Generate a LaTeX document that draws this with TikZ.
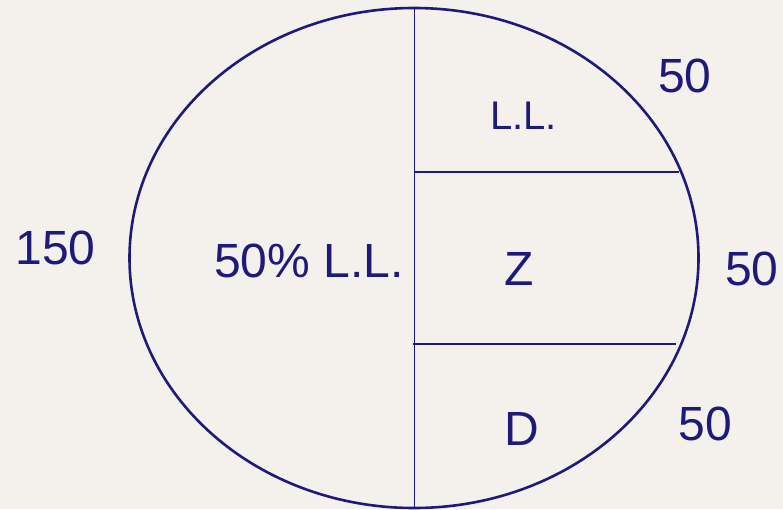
\documentclass[tikz,border=0pt]{standalone}
\usepackage{fontspec}
\setmainfont{Liberation Sans}
\definecolor{bg}{RGB}{244,240,236}
\definecolor{ink}{RGB}{30,26,122}
\begin{document}
\begin{tikzpicture}[x=1pt,y=-1pt,
  lbl/.style={text=ink,inner sep=0pt,anchor=base,font=\fontsize{48}{52}\selectfont},
  lblsmall/.style={lbl,font=\fontsize{40}{44}\selectfont},
  rim/.style={draw=ink,line width=2.6pt},
  divider/.style={draw=ink,line width=1.6pt}]
\fill[bg] (0,0) rectangle (783,509);
\useasboundingbox (0,0) rectangle (783,509);
\draw[rim] (414,258) ellipse [x radius=284.5, y radius=250];
\coordinate (vtop) at (414.5,8);
\coordinate (vbot) at (414.5,509);
\coordinate (h1a) at (414.5,172);
\coordinate (h1b) at (679,172);
\coordinate (h2a) at (413,344);
\coordinate (h2b) at (676,344);
\draw[divider] (vtop) -- (vbot);
\draw[divider] (h1a) -- (h1b);
\draw[divider] (h2a) -- (h2b);
\node[lbl] (n150) at (55.5,264) {150};
\node[lbl] (half) at (309,277) {50\% L.L.};
\node[lblsmall] (ll) at (523.5,129.3) {L.L.};
\node[lbl] (top50) at (684.7,92.7) {50};
\node[lbl] (z) at (519.2,285) {Z};
\node[lbl] (mid50) at (751.7,285) {50};
\node[lbl] (d) at (522,445.7) {D};
\node[lbl] (bot50) at (705,440.7) {50};
\end{tikzpicture}
\end{document}
